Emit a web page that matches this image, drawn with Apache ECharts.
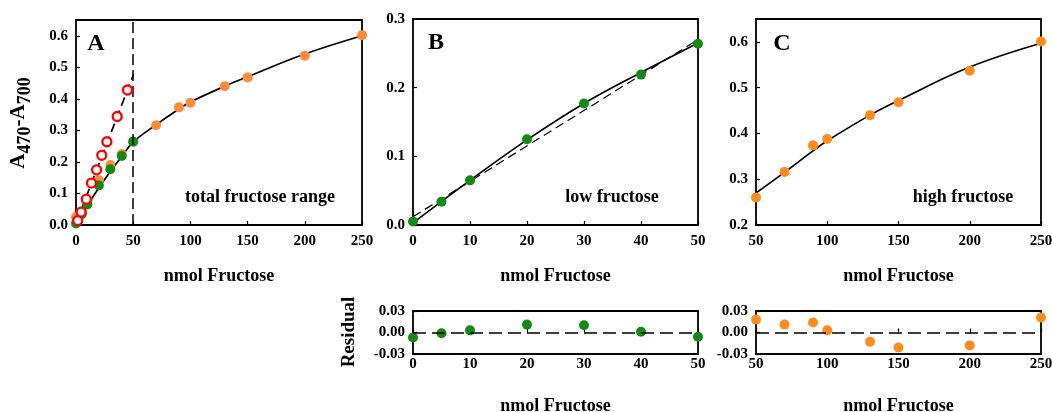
<!DOCTYPE html>
<html>
<head>
<meta charset="utf-8">
<script src="https://cdn.jsdelivr.net/npm/echarts@6/dist/echarts.min.js"></script>
<style>
  html, body { margin: 0; background: #fff; }
  #chart { width: 1052px; height: 412px; }
</style>
</head>
<body>
<div id="chart"></div>
<script>
const totalX = [0, 5, 10, 20, 30, 40, 50, 70, 90, 100, 130, 150, 200, 250];
const totalAbs = [0.025, 0.042, 0.078, 0.142, 0.19, 0.225, 0.265, 0.316, 0.373, 0.388, 0.44, 0.468, 0.537, 0.602];
const lowX = [0, 5, 10, 20, 30, 40, 50];
const lowAbs = [0.005, 0.034, 0.065, 0.125, 0.177, 0.219, 0.264];
const highX = [50, 70, 90, 100, 130, 150, 200, 250];
const highAbs = [0.26, 0.316, 0.374, 0.388, 0.44, 0.468, 0.537, 0.601];
const openX = [1.5, 4.5, 9, 13.5, 18, 22.5, 27, 36, 45];
const openAbs = [0.014, 0.041, 0.082, 0.133, 0.175, 0.221, 0.264, 0.344, 0.428];

// fitted curves
const totalFitX = [0, 10, 20, 30, 40, 50, 70, 90, 100, 130, 150, 200, 250];
const totalFitAbs = [0.0, 0.062, 0.118, 0.169, 0.217, 0.263, 0.318, 0.368, 0.39, 0.44, 0.47, 0.542, 0.6];
const linFitX = [0, 50];
const linFitAbs = [0.005, 0.475];
const lowFitX = [0, 10, 20, 30, 40, 50];
const lowFitAbs = [0.003, 0.065, 0.124, 0.177, 0.222, 0.265];
const lowLinX = [0, 50];
const lowLinAbs = [0.012, 0.27];
const highFitX = [50, 70, 90, 100, 130, 150, 200, 250];
const highFitAbs = [0.27, 0.315, 0.362, 0.384, 0.44, 0.472, 0.545, 0.597];

// residuals
const lowResid = [-0.007, -0.001, 0.003, 0.011, 0.010, 0.001, -0.006];
const highResid = [0.018, 0.011, 0.014, 0.003, -0.013, -0.021, -0.018, 0.021];

const zip = (xs, ys) => xs.map((x, i) => [x, ys[i]]);

const FONT = 'Liberation Serif';
const ORANGE = '#FF8C3A';
const ORANGE_C = '#FF8C1C';
const GREEN = '#148A14';

const grid = (left, top, width, height) => ({
  left, top, width, height, show: true, outerBoundsMode: 'none', containLabel: false,
  borderColor: '#000', borderWidth: 1.8, backgroundColor: 'transparent'
});

function xAxis(gi, min, max, interval, nameGap, labelMargin) {
  return {
    type: 'value', gridIndex: gi, min, max, interval,
    name: 'nmol Fructose', nameLocation: 'middle', nameGap,
    nameTextStyle: { fontFamily: FONT, fontWeight: 'bold', fontSize: 18, color: '#000' },
    axisLine: { show: false },
    axisTick: { inside: true, length: 4, lineStyle: { color: '#000', width: 1.2 } },
    axisLabel: { margin: labelMargin, fontFamily: FONT, fontWeight: 'bold', fontSize: 15, color: '#000' },
    splitLine: { show: false }
  };
}

function yAxis(gi, min, max, interval, digits, showMax) {
  return {
    type: 'value', gridIndex: gi, min, max, interval,
    axisLine: { show: false },
    axisTick: { inside: true, length: 4, lineStyle: { color: '#000', width: 1.2 } },
    axisLabel: {
      margin: 8, fontFamily: FONT, fontWeight: 'bold', fontSize: 15, color: '#000',
      showMaxLabel: showMax,
      formatter: v => v.toFixed(digits)
    },
    splitLine: { show: false }
  };
}

function line(xi, data, dashed, z) {
  return {
    type: 'line', xAxisIndex: xi, yAxisIndex: xi, data, smooth: 0.4,
    symbol: 'none', z: z || 2, silent: true,
    lineStyle: { color: '#000', width: 1.7, type: dashed ? [9, 5] : 'solid' }
  };
}

function dots(xi, data, color, size, z) {
  return {
    type: 'scatter', xAxisIndex: xi, yAxisIndex: xi, data, symbolSize: size, z: z || 3,
    itemStyle: { color, opacity: 1 }
  };
}

const zeroLine = {
  silent: true, symbol: 'none', label: { show: false },
  lineStyle: { color: '#000', type: [13, 6], width: 1.7 },
  data: [{ yAxis: 0 }]
};

const text = (x, y, t, size) => ({
  type: 'text', x, y,
  style: { text: t, fontFamily: FONT, fontWeight: 'bold', fontSize: size, fill: '#000', align: 'center', verticalAlign: 'middle' }
});

const chart = echarts.init(document.getElementById('chart'));
chart.setOption({
  animation: false,
  backgroundColor: '#fff',
  grid: [
    grid(76, 20, 286, 205),
    grid(413, 19, 285, 206),
    grid(756, 19, 285, 206),
    grid(413, 311, 285, 43),
    grid(756, 311, 285, 43)
  ],
  xAxis: [
    xAxis(0, 0, 250, 50, 42, 9),
    xAxis(1, 0, 50, 10, 42, 9),
    xAxis(2, 50, 250, 50, 42, 9),
    xAxis(3, 0, 50, 10, 43, 3),
    xAxis(4, 50, 250, 50, 43, 3)
  ],
  yAxis: [
    yAxis(0, 0, 0.65, 0.1, 1, false),
    yAxis(1, 0, 0.3, 0.1, 1, true),
    yAxis(2, 0.2, 0.65, 0.1, 1, false),
    yAxis(3, -0.03, 0.03, 0.03, 2, true),
    yAxis(4, -0.03, 0.03, 0.03, 2, true)
  ],
  series: [
    // A
    Object.assign(line(0, zip(totalFitX, totalFitAbs), false), {
      markLine: {
        silent: true, symbol: 'none', label: { show: false },
        lineStyle: { color: '#000', type: [11, 5], width: 1.5 },
        data: [{ xAxis: 50 }]
      }
    }),
    Object.assign(line(0, zip(linFitX, linFitAbs), true), { smooth: false }),
    dots(0, zip(totalX, totalAbs), ORANGE, 10, 3),
    dots(0, zip(lowX, lowAbs), GREEN, 10, 4),
    {
      type: 'scatter', xAxisIndex: 0, yAxisIndex: 0, data: zip(openX, openAbs),
      symbolSize: 9, z: 5,
      itemStyle: { color: '#fff', borderColor: '#FF0000', borderWidth: 2.3, opacity: 1 }
    },
    // B
    Object.assign(line(1, zip(lowLinX, lowLinAbs), true), { smooth: false, lineStyle: { color: '#000', width: 1.2, type: [9, 5] } }),
    line(1, zip(lowFitX, lowFitAbs), false),
    dots(1, zip(lowX, lowAbs), GREEN, 10),
    // C
    line(2, zip(highFitX, highFitAbs), false),
    dots(2, zip(highX, highAbs), ORANGE_C, 10),
    // residuals
    Object.assign(dots(3, zip(lowX, lowResid), GREEN, 10), { markLine: zeroLine }),
    Object.assign(dots(4, zip(highX, highResid), ORANGE_C, 10), { markLine: zeroLine })
  ],
  graphic: [
    text(96, 44, 'A', 24),
    text(436, 43, 'B', 24),
    text(782, 44, 'C', 24),
    text(260, 197, 'total fructose range', 18),
    text(612, 197, 'low fructose', 18),
    text(963, 197, 'high fructose', 18),
    {
      type: 'text', x: 22, y: 123, rotation: Math.PI / 2,
      style: {
        text: '{m|A}{s|470}{m|-A}{s|700}',
        align: 'center', verticalAlign: 'middle',
        rich: {
          m: { fontFamily: FONT, fontWeight: 'bold', fontSize: 21, fill: '#000', padding: [0, 0, 6, 0] },
          s: { fontFamily: FONT, fontWeight: 'bold', fontSize: 18, fill: '#000', padding: [6, 0, 0, 0] }
        }
      }
    },
    {
      type: 'text', x: 349, y: 332, rotation: Math.PI / 2,
      style: { text: 'Residual', fontFamily: FONT, fontWeight: 'bold', fontSize: 19, fill: '#000', align: 'center', verticalAlign: 'middle' }
    }
  ]
});
</script>
</body>
</html>
